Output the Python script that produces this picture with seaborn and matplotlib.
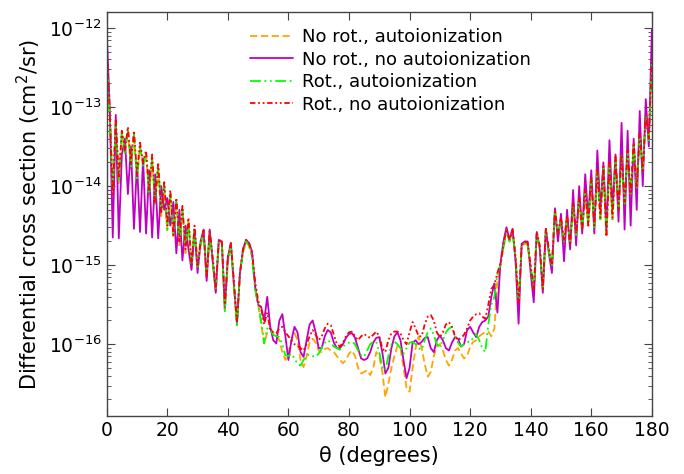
import numpy as np
import pandas as pd
import matplotlib
matplotlib.use("Agg")
import matplotlib.pyplot as plt
import seaborn as sns

# scattering angle grid (degrees)
theta = list(range(0, 181))

# log10 of the differential cross section (cm^2/sr)
log_norot_ai = [
    -12.3, -13.1, -14.12, -13.2, -13.98, -13.3, -13.6, -13.3, -13.78, -13.35,
    -13.92, -13.5, -13.75, -13.6, -14.12, -13.65, -14.22, -13.75, -14.38, -14.0,
    -14.56, -14.1, -14.65, -14.2, -14.75, -14.3, -14.85, -14.45, -15.05, -14.55,
    -15.05, -14.75, -14.58, -15.18, -14.6, -14.95, -15.33, -14.72, -14.7, -15.58,
    -14.95, -14.75, -15.25, -15.76, -15.1, -14.85, -14.7, -14.75, -14.9, -15.3,
    -15.5, -15.75, -15.99, -15.85, -15.8, -15.85, -15.88, -15.95, -16.1, -16.2,
    -16.1, -15.95, -15.86, -15.95, -16.2, -16.29, -16.15, -15.98, -15.93, -15.98,
    -16.08, -16.1, -16.06, -16.05, -16.08, -16.1, -16.15, -16.2, -16.24, -16.2,
    -16.12, -16.08, -16.15, -16.3, -16.37, -16.35, -16.33, -16.39, -16.3, -16.1,
    -16.16, -16.35, -16.67, -16.5, -16.3, -16.15, -16.02, -16.05, -16.3, -16.55,
    -16.6, -16.3, -16.05, -15.9, -16.05, -16.25, -16.41, -16.35, -16.15, -16.03,
    -16.0, -16.08, -16.2, -16.27, -16.2, -16.08, -16.05, -16.12, -16.18, -16.15,
    -16.03, -15.97, -15.95, -15.9, -15.87, -15.85, -15.84, -15.9, -15.8, -15.2,
    -15.0, -14.78, -14.56, -14.7, -14.56, -14.92, -15.5, -14.78, -14.72, -14.75,
    -15.02, -15.35, -14.6, -14.78, -15.32, -14.56, -14.82, -15.05, -14.32, -14.62,
    -14.42, -14.72, -14.4, -14.75, -14.25, -14.62, -14.17, -14.58, -14.08, -14.5,
    -13.93, -14.52, -13.82, -14.42, -13.78, -14.62, -13.72, -14.42, -13.66, -14.32,
    -13.62, -14.22, -13.58, -14.12, -13.48, -14.02, -13.36, -13.82, -13.12, -13.42,
    -12.45,
]

log_norot_noai = [
    -12.05, -13.0, -14.65, -13.1, -14.66, -13.6, -13.4, -14.1, -13.5, -14.54,
    -13.7, -14.58, -13.65, -14.6, -13.8, -14.65, -13.85, -14.66, -14.0, -14.3,
    -14.15, -14.5, -14.2, -14.85, -14.3, -14.94, -14.5, -14.8, -15.06, -14.55,
    -15.1, -14.7, -14.55, -15.2, -14.55, -14.95, -15.35, -14.68, -14.7, -15.55,
    -14.9, -14.72, -15.25, -15.74, -15.1, -14.8, -14.68, -14.72, -14.83, -15.27,
    -15.5, -15.53, -15.7, -15.4, -15.78, -15.95, -15.99, -15.7, -15.62, -15.9,
    -16.2, -15.95, -15.78, -15.85, -16.1, -16.16, -15.95, -15.75, -15.7, -15.85,
    -16.05, -16.05, -15.9, -15.82, -15.85, -15.98, -16.05, -16.05, -16.0, -15.92,
    -15.87, -15.86, -15.92, -16.05, -16.18, -16.2, -16.18, -16.1, -15.98, -15.92,
    -15.91, -16.1, -16.37, -16.3, -16.05, -15.9, -15.85, -15.95, -16.2, -16.43,
    -16.3, -15.98, -15.95, -16.0, -15.97, -15.92, -15.91, -16.05, -16.1, -15.95,
    -15.89, -15.95, -16.05, -16.08, -15.98, -15.91, -15.93, -16.03, -16.0, -15.82,
    -15.78, -15.85, -15.91, -15.78, -15.72, -15.7, -15.65, -15.4, -15.23, -15.6,
    -14.98, -14.7, -14.52, -14.68, -14.54, -14.95, -15.74, -14.73, -14.7, -14.7,
    -15.1, -15.47, -14.58, -14.8, -15.35, -14.54, -14.85, -15.1, -14.28, -14.7,
    -14.35, -14.95, -14.3, -14.8, -14.05, -14.75, -14.0, -14.6, -13.85, -14.4,
    -13.8, -14.6, -13.55, -14.3, -13.7, -14.55, -13.42, -14.3, -13.6, -14.45,
    -13.2, -14.55, -13.3, -14.5, -13.4, -14.3, -13.05, -14.0, -12.9, -13.5,
    -12.02,
]

log_rot_ai = [
    -12.3, -13.1, -14.05, -13.2, -13.95, -13.3, -13.6, -13.3, -13.75, -13.35,
    -13.9, -13.5, -13.75, -13.6, -14.1, -13.65, -14.2, -13.75, -14.3, -14.0,
    -14.55, -14.1, -14.6, -14.2, -14.72, -14.3, -14.8, -14.45, -14.98, -14.55,
    -15.02, -14.75, -14.58, -15.1, -14.6, -14.95, -15.3, -14.72, -14.7, -15.6,
    -14.95, -14.75, -15.25, -15.78, -15.1, -14.85, -14.7, -14.75, -14.9, -15.3,
    -15.5, -15.7, -15.99, -15.8, -15.82, -15.88, -15.9, -15.91, -16.0, -16.14,
    -16.15, -16.12, -16.18, -16.25, -16.27, -16.2, -16.14, -16.13, -16.15, -16.16,
    -16.12, -16.05, -15.98, -15.95, -15.98, -16.03, -16.05, -16.07, -16.03, -16.0,
    -15.98, -15.97, -16.0, -16.08, -16.14, -16.16, -16.08, -16.0, -15.97, -15.97,
    -16.1, -16.3, -16.33, -16.15, -16.0, -15.97, -16.0, -16.05, -16.12, -16.05,
    -15.98, -15.97, -16.0, -16.05, -16.07, -15.95, -15.85, -15.8, -15.88, -16.0,
    -16.03, -15.95, -15.85, -15.8, -15.78, -15.88, -15.98, -16.03, -16.0, -15.97,
    -15.97, -15.92, -15.87, -15.95, -16.05, -16.1, -15.75, -15.5, -15.4, -15.1,
    -15.0, -14.78, -14.56, -14.7, -14.56, -14.92, -15.45, -14.78, -14.72, -14.75,
    -15.02, -15.3, -14.6, -14.78, -15.28, -14.56, -14.82, -15.02, -14.32, -14.62,
    -14.42, -14.72, -14.4, -14.72, -14.25, -14.62, -14.17, -14.55, -14.08, -14.48,
    -13.93, -14.52, -13.82, -14.42, -13.78, -14.6, -13.72, -14.42, -13.66, -14.3,
    -13.62, -14.22, -13.58, -14.12, -13.48, -14.02, -13.36, -13.82, -13.12, -13.42,
    -12.45,
]

log_rot_noai = [
    -12.25, -13.05, -14.1, -13.15, -13.9, -13.3, -13.55, -13.25, -13.7, -13.3,
    -13.85, -13.45, -13.7, -13.55, -14.05, -13.6, -14.2, -13.7, -14.35, -13.95,
    -14.5, -14.05, -14.62, -14.15, -14.7, -14.25, -14.8, -14.4, -15.0, -14.5,
    -15.0, -14.7, -14.56, -15.15, -14.56, -14.9, -15.29, -14.7, -14.68, -15.5,
    -14.9, -14.72, -15.2, -15.72, -15.1, -14.8, -14.68, -14.72, -14.85, -15.2,
    -15.45, -15.55, -15.75, -15.6, -15.82, -15.85, -15.86, -15.8, -15.78, -15.85,
    -15.9, -15.95, -16.0, -16.02, -16.05, -16.08, -16.0, -15.9, -15.82, -15.88,
    -15.95, -15.9, -15.8, -15.74, -15.76, -15.88, -16.0, -16.03, -15.98, -15.9,
    -15.85, -15.84, -15.9, -15.95, -15.9, -15.87, -15.9, -15.92, -15.88, -15.84,
    -15.9, -16.05, -16.1, -15.95, -15.86, -15.84, -15.84, -15.86, -15.95, -16.0,
    -15.85, -15.72, -15.8, -15.9, -15.9, -15.75, -15.65, -15.63, -15.7, -15.85,
    -15.91, -15.85, -15.75, -15.72, -15.78, -15.9, -15.95, -15.92, -15.88, -15.8,
    -15.7, -15.65, -15.62, -15.61, -15.65, -15.68, -15.5, -15.3, -15.25, -15.1,
    -14.98, -14.75, -14.54, -14.68, -14.54, -14.9, -15.48, -14.75, -14.7, -14.72,
    -15.0, -15.32, -14.58, -14.75, -15.3, -14.54, -14.8, -15.0, -14.3, -14.6,
    -14.4, -14.7, -14.37, -14.75, -14.22, -14.6, -14.14, -14.55, -14.05, -14.5,
    -13.9, -14.5, -13.8, -14.4, -13.75, -14.64, -13.7, -14.4, -13.63, -14.3,
    -13.6, -14.2, -13.55, -14.1, -13.45, -14.0, -13.33, -13.8, -13.1, -13.4,
    -12.4,
]

labels = [
    "No rot., autoionization",
    "No rot., no autoionization",
    "Rot., autoionization",
    "Rot., no autoionization",
]
y_tick_values = [1e-16, 1e-15, 1e-14, 1e-13, 1e-12]
x_tick_values = list(range(0, 181, 20))

sns.set_style("ticks")
plt.rcParams["font.family"] = ["DejaVu Sans"]
plt.rcParams["text.color"] = "black"
plt.rcParams["axes.labelcolor"] = "black"

fig = plt.figure(figsize=(6.84, 4.74), dpi=100)
ax = fig.add_axes([0.156, 0.122, 0.797, 0.853])

series = [
    (log_norot_ai, labels[0], "orange", (0, (4, 2))),
    (log_norot_noai, labels[1], "#C000C0", "-"),
    (log_rot_ai, labels[2], "#00FF00", (0, (6, 2, 1, 2, 1, 2))),
    (log_rot_noai, labels[3], "red", (0, (3, 1.5, 1, 1.5, 1, 1.5))),
]

for vals, lab, col, ls in series:
    df = pd.DataFrame({"theta": theta, "dcs": np.power(10.0, np.array(vals))})
    sns.lineplot(data=df, x="theta", y="dcs", ax=ax, color=col,
                 linestyle=ls, linewidth=1.3, label=lab, sort=False)

ax.set_yscale("log")
ax.set_xlim(0, 180)
ax.set_ylim(1.23e-17, 1.6e-12)
ax.set_xticks(x_tick_values)
ax.set_yticks(y_tick_values)
ax.set_xlabel("θ (degrees)", fontsize=15)
ax.set_ylabel("Differential cross section (cm$^2$/sr)", fontsize=15)
ax.tick_params(axis="both", which="both", direction="in", top=True, right=True,
               labelsize=13.5, color="#444444", labelcolor="black")
ax.tick_params(axis="both", which="major", length=6)
ax.tick_params(axis="y", which="minor", length=3)
for sp in ax.spines.values():
    sp.set_color("#444444")
    sp.set_linewidth(1.0)

ax.legend(loc="upper center", bbox_to_anchor=(0.52, 1.0), frameon=False,
          fontsize=13, handlelength=2.4, labelspacing=0.25, handletextpad=0.5)

fig.savefig("out.png", dpi=100)
